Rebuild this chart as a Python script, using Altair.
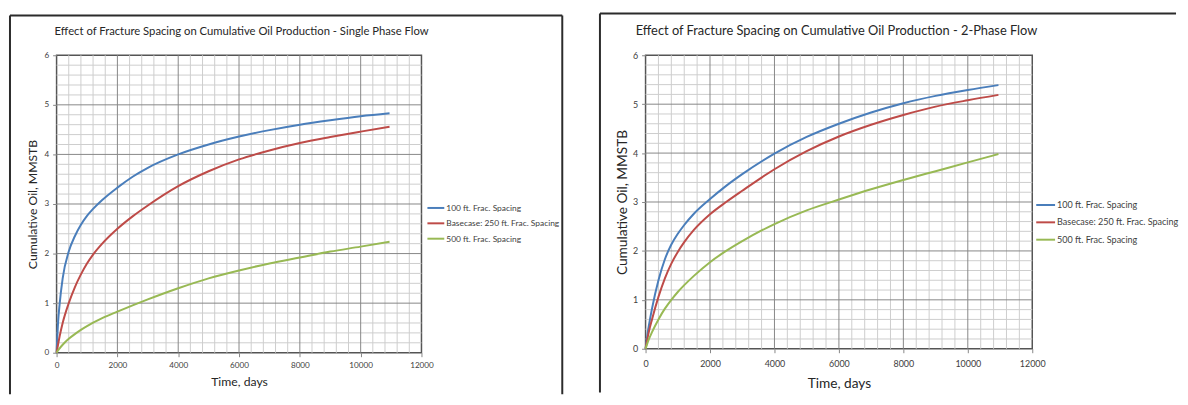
import altair as alt
import pandas as pd

# ---------------- data ----------------
series_names = ["100 ft. Frac. Spacing", "Basecase: 250 ft. Frac. Spacing", "500 ft. Frac. Spacing"]
series_colors = ["#4a7ebb", "#be4b48", "#98b954"]

days = [0, 50, 100, 200, 400, 600, 800, 1000, 1200, 1500, 2000, 2500, 3000,
        4000, 5000, 6000, 7000, 8000, 9000, 10000, 10950]

# Single phase flow (MMSTB)
sp_100 = [0, 0.62, 0.98, 1.50, 2.04, 2.35, 2.58, 2.76, 2.90, 3.08, 3.33, 3.55, 3.73,
          4.00, 4.20, 4.36, 4.49, 4.60, 4.69, 4.77, 4.83]
sp_250 = [0, 0.17, 0.33, 0.60, 1.00, 1.32, 1.58, 1.80, 1.98, 2.20, 2.50, 2.75, 2.97,
          3.36, 3.66, 3.90, 4.08, 4.23, 4.35, 4.46, 4.56]
sp_500 = [0, 0.05, 0.09, 0.16, 0.28, 0.375, 0.46, 0.535, 0.605, 0.70, 0.83, 0.955, 1.075,
          1.30, 1.50, 1.66, 1.80, 1.92, 2.04, 2.14, 2.24]

# 2-phase flow (MMSTB)
tp_100 = [0, 0.25, 0.46, 0.82, 1.40, 1.83, 2.13, 2.35, 2.53, 2.76, 3.06, 3.33, 3.57,
          3.99, 4.33, 4.60, 4.83, 5.02, 5.17, 5.29, 5.39]
tp_250 = [0, 0.18, 0.34, 0.60, 1.06, 1.44, 1.74, 1.98, 2.18, 2.43, 2.75, 3.00, 3.23,
          3.67, 4.04, 4.34, 4.58, 4.78, 4.95, 5.08, 5.19]
tp_500 = [0, 0.10, 0.19, 0.34, 0.60, 0.82, 1.00, 1.16, 1.30, 1.49, 1.77, 2.00, 2.20,
          2.55, 2.83, 3.05, 3.26, 3.45, 3.63, 3.81, 3.98]

x_major = [0, 2000, 4000, 6000, 8000, 10000, 12000]
y_major = [0, 1, 2, 3, 4, 5, 6]
x_grid_major = [2000, 4000, 6000, 8000, 10000]
x_grid_minor = [v for v in range(400, 12000, 400) if v % 2000 != 0]
y_grid_major = [1, 2, 3, 4, 5]
y_grid_minor = [round(i * 0.2, 1) for i in range(1, 30) if i % 5 != 0]

title_left = "Effect of Fracture Spacing on Cumulative Oil Production - Single Phase Flow"
title_right = "Effect of Fracture Spacing on Cumulative Oil Production - 2-Phase Flow"

FONT = "Lato"
MINOR = "#cdcdcd"
MAJOR = "#878787"
FRAME = "#2b2b2b"
TXT = "#262626"
LBL = "#404040"

XS = alt.Scale(domain=[0, 12000], nice=False)
YS = alt.Scale(domain=[0, 6], nice=False)


def long_df(vals):
    rows = []
    for name, v in zip(series_names, vals):
        for d, o in zip(days, v):
            rows.append({"Time": d, "Oil": o, "Series": name})
    return pd.DataFrame(rows)


one = pd.DataFrame({"k": [0]})


def panel(vals, w, h, title, s, leg_x, leg_y, sym_len, frame_l, frame_t, frame_r, frame_b,
          right_side, x_lpad, x_tpad, y_lpad, y_tpad):
    x_axis = alt.Axis(
        values=x_major, format="d", title="Time, days",
        labelOverlap=False, labelFlush=False, grid=False,
        ticks=True, tickSize=4, tickColor=MAJOR, domain=False,
        labelFont=FONT, labelFontSize=s["tick"], labelColor=LBL, labelPadding=x_lpad,
        titleFont=FONT, titleFontSize=s["atitle"], titleColor=TXT, titleFontWeight="normal",
        titlePadding=x_tpad,
    )
    y_axis = alt.Axis(
        values=y_major, format="d", title="Cumulative Oil, MMSTB",
        labelOverlap=False, labelFlush=False, grid=False,
        ticks=True, tickSize=4, tickColor=MAJOR, domain=False,
        labelFont=FONT, labelFontSize=s["tick"], labelColor=LBL, labelPadding=y_lpad,
        titleFont=FONT, titleFontSize=s["atitle"], titleColor=TXT, titleFontWeight="normal",
        titlePadding=y_tpad,
    )

    def vgrid(gvals, color):
        return alt.Chart(pd.DataFrame({"gx": gvals})).mark_rule(color=color, strokeWidth=1).encode(
            x=alt.X("gx:Q", scale=XS, axis=x_axis))

    def hgrid(gvals, color):
        return alt.Chart(pd.DataFrame({"gy": gvals})).mark_rule(color=color, strokeWidth=1).encode(
            y=alt.Y("gy:Q", scale=YS, axis=y_axis))

    lines = alt.Chart(long_df(vals)).mark_line(strokeWidth=2, interpolate="monotone").encode(
        x=alt.X("Time:Q", scale=XS, axis=x_axis),
        y=alt.Y("Oil:Q", scale=YS, axis=y_axis),
        color=alt.Color(
            "Series:N",
            scale=alt.Scale(domain=series_names, range=series_colors),
            legend=alt.Legend(
                title=None, orient="none", legendX=leg_x, legendY=leg_y,
                symbolType="stroke", symbolSize=sym_len * sym_len, symbolStrokeWidth=2,
                labelFont=FONT, labelFontSize=s["legend"], labelColor=LBL,
                labelOffset=1, rowPadding=1.5, padding=0, labelLimit=0,
            ),
        ),
    )
    layers = [
        vgrid(x_grid_minor, MINOR), hgrid(y_grid_minor, MINOR),
        vgrid(x_grid_major, MAJOR), hgrid(y_grid_major, MAJOR),
        lines,
    ]
    # outer frame
    layers.append(alt.Chart(one).mark_rule(color=FRAME, strokeWidth=2).encode(
        x=alt.value(frame_l), y=alt.value(frame_t), y2=alt.value(frame_b)))
    layers.append(alt.Chart(one).mark_rule(color=FRAME, strokeWidth=2).encode(
        x=alt.value(frame_l), x2=alt.value(frame_r), y=alt.value(frame_t)))
    if right_side:
        layers.append(alt.Chart(one).mark_rule(color=FRAME, strokeWidth=2).encode(
            x=alt.value(frame_r), y=alt.value(frame_t), y2=alt.value(frame_b)))
    # chart title
    layers.append(alt.Chart(one).mark_text(
        text=title, align="left", baseline="middle", font=FONT,
        fontSize=s["title"], color=TXT).encode(
        x=alt.value(s["tx"]), y=alt.value(s["ty"])))
    return alt.layer(*layers).properties(width=w, height=h)


left = panel([sp_100, sp_250, sp_500], 368, 300, title_left,
             {"tick": 8.2, "atitle": 12.3, "title": 11.35, "legend": 8.5, "tx": -2, "ty": -23},
             leg_x=373, leg_y=144.5, sym_len=17,
             frame_l=-47, frame_t=-40, frame_r=510, frame_b=342, right_side=True,
             x_lpad=5, x_tpad=7, y_lpad=4, y_tpad=5)

right = panel([tp_100, tp_250, tp_500], 390, 296, title_right,
              {"tick": 9, "atitle": 13.8, "title": 12.95, "legend": 9.1, "tx": -10, "ty": -24},
              leg_x=393, leg_y=140.5, sym_len=19,
              frame_l=-46, frame_t=-42, frame_r=535, frame_b=340, right_side=False,
              x_lpad=7, x_tpad=8, y_lpad=4, y_tpad=3)

chart = alt.hconcat(left, right, spacing=34).resolve_scale(
    color="independent").resolve_legend(color="independent").properties(
    padding={"left": 0, "top": 2, "right": 0, "bottom": 0},
    background="white",
).configure_view(stroke="#555555", strokeWidth=1.5)

chart.save("out.html", embed_options={"renderer": "svg", "actions": False})
